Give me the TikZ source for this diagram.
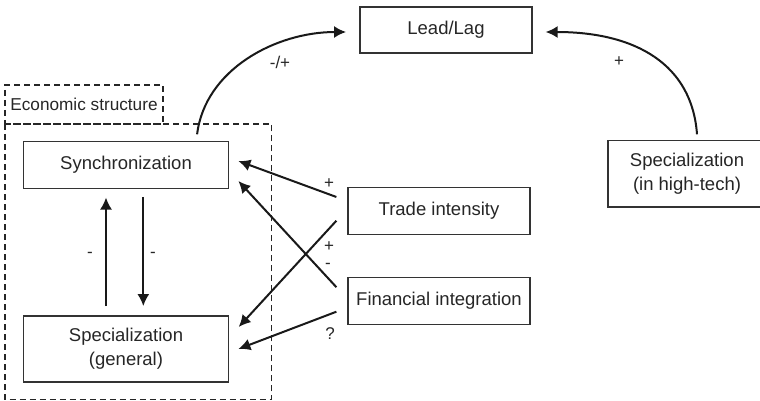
\documentclass[tikz,border=0pt]{standalone}
\usepackage{fontspec}
\setmainfont{Liberation Sans}
\usetikzlibrary{arrows.meta,positioning}

\begin{document}
\begin{tikzpicture}[x=0.5pt, y=-0.5pt, node distance=45pt,
  block/.style={draw=black!80, line width=0.6pt, minimum width=91pt, minimum height=23.5pt, align=center, text=black!85, font=\fontsize{9.25}{12}\selectfont},
  link/.style={-{Latex[length=6pt,width=6pt]}, line width=1pt, color=black!90},
  frame/.style={draw=black!85, line width=0.6pt, dash pattern=on 3pt off 2pt},
  sign/.style={text=black!85, font=\fontsize{8.5}{10}\selectfont}]

  \useasboundingbox (0,0) rectangle (760,401);

  % Economic structure frame
  \draw[frame] (5,124) rectangle (271.7,399.3);
  \node[frame, minimum width=79pt, minimum height=19.5pt, inner sep=0pt, text=black!85, font=\fontsize{8.6}{10}\selectfont] (econ) at (84,104.5) {Economic structure};

  % Blocks
  \node[block, minimum width=102.5pt] (sync) at (126,165) {Synchronization};
  \node[block, minimum width=102.5pt, minimum height=33pt, below of=sync, node distance=92pt] (specgen) {Specialization\\(general)};
  \node[block, minimum width=86pt, minimum height=23pt] (lead) at (446,30) {Lead/Lag};
  \node[block] (trade) at (439,210.7) {Trade intensity};
  \node[block, below of=trade] (fin) {Financial integration};
  \node[block, minimum width=79pt, minimum height=33pt] (spechigh) at (687,173.9) {Specialization\\(in high-tech)};

  % Vertical arrows
  \draw[link] ([xshift=-10pt,yshift=4.65pt]specgen.north) -- ([xshift=-10pt,yshift=-4.2pt]sync.south);
  \draw[link] ([xshift=8.65pt,yshift=-3.85pt]sync.south) -- ([xshift=8.65pt,yshift=4.65pt]specgen.north);

  % Crossing arrows
  \draw[link] ([xshift=-5.5pt,yshift=6.85pt]trade.west) -- ([xshift=4.65pt,yshift=2pt]sync.east);
  \draw[link] ([xshift=-5.5pt,yshift=-5pt]trade.west) -- ([xshift=4.8pt,yshift=11pt]specgen.east);
  \draw[link] ([xshift=-5.5pt,yshift=6.75pt]fin.west) -- ([xshift=4.65pt,yshift=-8pt]sync.east);
  \draw[link] ([xshift=-5.5pt,yshift=-5.5pt]fin.west) -- ([xshift=4.65pt]specgen.east);

  % Curves to Lead/Lag
  \draw[link] ([xshift=-16pt,yshift=3.3pt]sync.north east) .. controls +(8,-65) and +(-70,0) .. ([xshift=-6.65pt,yshift=-1pt]lead.west);
  \draw[link] ([xshift=5pt,yshift=3pt]spechigh.north) .. controls +(-5,-70) and +(90,0) .. ([xshift=6.5pt,yshift=-1pt]lead.east);

  % Signs
  \node[sign] (s1) at (280,62) {-/+};
  \node[sign] (s2) at (619,62) {+};
  \node[sign] (s3) at (90,255) {-};
  \node[sign] (s4) at (153,255) {-};
  \node[sign] (s5) at (329,184) {+};
  \node[sign] (s6) at (329,247) {+};
  \node[sign] (s7) at (328,266) {-};
  \node[sign] (s8) at (330,334) {?};

\end{tikzpicture}
\end{document}
